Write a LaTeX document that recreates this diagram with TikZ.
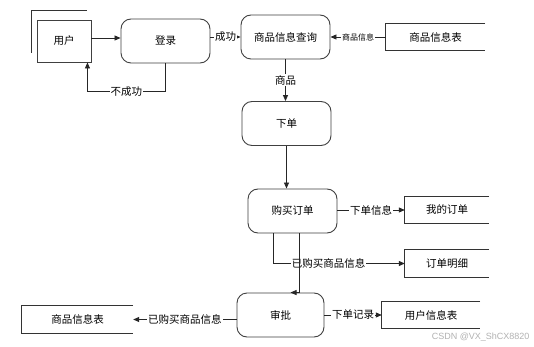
\documentclass[tikz,border=0pt]{standalone}
\usepackage{fontspec}
\setmainfont{Noto Sans CJK SC}
\newfontfamily\wmfont{Liberation Sans}
\usetikzlibrary{arrows.meta,calc}
\begin{document}
\begin{tikzpicture}[x=1pt,y=-1pt,
  font=\fontsize{10.5}{12}\selectfont,
  box/.style={draw=black!75, line width=0.9pt, minimum width=89pt, minimum height=44pt, inner sep=0pt},
  proc/.style={box, rounded corners=10pt},
  ent/.style={box, minimum width=54pt, minimum height=42pt},
  store/.style={minimum height=26pt, inner sep=0pt},
  sline/.style={draw=black!80, line width=0.9pt},
  arr/.style={draw=black!85, line width=0.8pt, -{Triangle[length=6pt,width=5pt]}},
  lbl/.style={fill=white, inner sep=1pt},
  slbl/.style={fill=white, inner sep=1pt, font=\fontsize{8}{9}\selectfont}]
\useasboundingbox (0,0) rectangle (534,347);
\fill[white] (0,0) rectangle (534,347);

% processes and entities
\node[ent]  (user)    at (64,41)     {用户};
\node[proc] (login)   at (165.5,41)  {登录};
\node[proc] (query)   at (285.5,37)  {商品信息查询};
\node[proc] (order)   at (286.5,123.5) {下单};
\node[proc] (buy)     at (292.5,211) {购买订单};
\node[proc, minimum width=87pt] (approve) at (280.5,315) {审批};

% data stores (open on the right)
\node[store, minimum width=99pt]  (goodsTab)  at (435.5,37)  {商品信息表};
\node[store, minimum width=84pt]  (myorder)   at (447,210)   {我的订单};
\node[store, minimum width=84pt, minimum height=27pt] (detail) at (447,263.5) {订单明细};
\node[store, minimum width=111pt, minimum height=27pt] (goodsTab2) at (77.5,319.5) {商品信息表};
\node[store, minimum width=98pt]  (userTab)   at (431,315)   {用户信息表};
\foreach \n in {goodsTab,myorder,detail,goodsTab2,userTab}
  \draw[sline] (\n.north east) -- (\n.north west) -- (\n.south west) -- (\n.south east);

% external entity shadow lines
\draw[sline] ($(user.north west)+(50,-9)$) -- ($(user.north west)+(-5,-9)$) -- ($(user.north west)+(-5,33)$);

% connectors
\draw[arr] ([yshift=3pt]user.east) -- ([yshift=3pt]login.west);
\draw[arr] (login.south) |- node[lbl, pos=0.75] {不成功} ($(user.south east)+(-4,29)$) -- ($(user.south east)+(-4,0)$);
\draw[arr] (login.east |- query.west) -- node[lbl] {成功} (query.west);
\draw[arr] (goodsTab.west) -- node[slbl] {商品信息} (query.east);
\draw[arr] (query.south) -- node[lbl] {商品} (query.south |- order.north);
\draw[arr] (order.south) -- (order.south |- buy.north);
\draw[arr] (buy.east |- myorder.west) -- node[lbl] {下单信息} (myorder.west);
\draw[arr] ($(buy.south west)+(26,0)$) |- node[lbl, pos=0.71] {已购买商品信息} (detail.west);
\draw[arr] ($(buy.south west)+(52,0)$) |- ($(approve.north)+(10,0)$);
\draw[arr] (approve.west |- goodsTab2.east) -- node[lbl] {已购买商品信息} (goodsTab2.east);
\draw[arr] (approve.east) -- node[lbl] {下单记录} (userTab.west);

% watermark
\node[anchor=east, text=black!30, font=\wmfont\fontsize{9}{10}\selectfont] (wm) at (533,337) {CSDN @VX\_ShCX8820};
\end{tikzpicture}
\end{document}
